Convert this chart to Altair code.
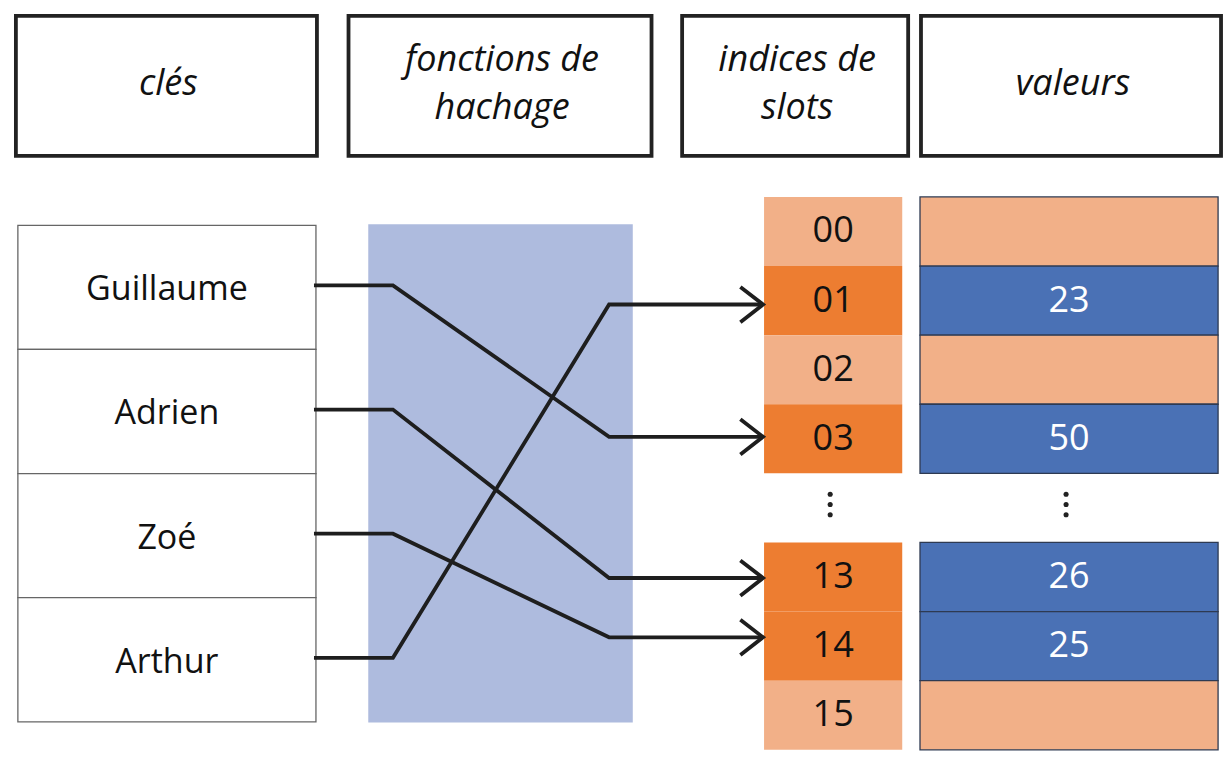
import altair as alt
import pandas as pd

# ---------------- data ----------------
header_labels = ["clés", "fonctions de\nhachage", "indices de\nslots", "valeurs"]
keys = ["Guillaume", "Adrien", "Zoé", "Arthur"]
key_slots = ["03", "13", "14", "01"]
slot_labels = ["00", "01", "02", "03", "⋮", "13", "14", "15"]
slot_values = ["", "23", "", "50", "⋮", "26", "25", ""]

# ---------------- layout (reference pixel space) ----------------
W, H = 1232, 758
header_edges = [(8, 313), (345, 652), (683, 912), (925, 1229)]
header_top, header_bottom = 8, 151
header_line_h = 48
key_left, key_right, key_top, key_row_h = 10, 312, 222, 126.8
hash_box = (365, 633, 221, 730)
slot_left, slot_right = 766, 906
val_left, val_right = 924, 1226
slot_top, slot_row_h = 193, 70.6
line_x = [310, 390, 609, 765]
arrow_dx, arrow_dy = 23, 18
arrow_shift = {"01": 4, "03": -2, "13": 1, "14": -9}
FONT = "Open Sans"

# ---------------- tables ----------------
headers = pd.DataFrame({
    "label": header_labels,
    "x": [a for a, b in header_edges],
    "x2": [b for a, b in header_edges],
    "y": [header_top] * 4,
    "y2": [header_bottom] * 4,
})
headers["xc"] = (headers["x"] + headers["x2"]) / 2 + 2
headers["yc"] = [
    (header_top + header_bottom) / 2 - 2 - (lbl.count("\n")) * header_line_h / 2
    for lbl in header_labels
]

key_df = pd.DataFrame({"label": keys})
key_df["x"] = key_left
key_df["x2"] = key_right
key_df["y"] = [key_top + i * key_row_h for i in range(len(keys))]
key_df["y2"] = key_df["y"] + key_row_h
key_df["xc"] = (key_left + key_right) / 2
key_df["yc"] = key_df["y"] + key_row_h / 2 + 3

hash_df = pd.DataFrame({"x": [hash_box[0]], "x2": [hash_box[1]],
                        "y": [hash_box[2]], "y2": [hash_box[3]]})

slot_rows = []
dot_rows = []
for j, (s, v) in enumerate(zip(slot_labels, slot_values)):
    top = slot_top + j * slot_row_h
    if s == "⋮":
        for dy in (-14, -3.5, 7):
            dot_rows.append({"x": (slot_left + slot_right) / 2 - 3, "y": top + slot_row_h / 2 + dy})
            dot_rows.append({"x": (val_left + val_right) / 2 - 3, "y": top + slot_row_h / 2 + dy})
        continue
    used = bool(v)
    slot_rows.append({
        "slot": s, "value": v,
        "slot_state": "slot used" if used else "slot empty",
        "val_state": "value used" if used else "value empty",
        "y": top, "y2": top + slot_row_h,
        "yc": top + slot_row_h / 2,
    })
slots_df = pd.DataFrame(slot_rows)
slots_df["x"] = slot_left
slots_df["x2"] = slot_right
slots_df["xc"] = (slot_left + slot_right) / 2
slots_df["vx"] = val_left
slots_df["vx2"] = val_right
slots_df["vxc"] = (val_left + val_right) / 2
dots_df = pd.DataFrame(dot_rows)

line_rows = []
arrow_rows = []
for i, (k, s) in enumerate(zip(keys, key_slots)):
    yk = key_top + (i + 0.5) * key_row_h - 2
    j = slot_labels.index(s)
    ys = slot_top + (j + 0.5) * slot_row_h + arrow_shift.get(s, 0)
    for o, (px, py) in enumerate(zip(line_x, [yk, yk, ys, ys])):
        line_rows.append({"id": k, "o": o, "x": px, "y": py})
    tip = line_x[-1]
    for o, (px, py) in enumerate([(tip - arrow_dx, ys - arrow_dy), (tip, ys), (tip - arrow_dx, ys + arrow_dy)]):
        arrow_rows.append({"id": k, "o": o, "x": px, "y": py})
lines_df = pd.DataFrame(line_rows)
arrows_df = pd.DataFrame(arrow_rows)

# ---------------- scales ----------------
xs = alt.Scale(domain=[0, W], nice=False, zero=False)
ys_ = alt.Scale(domain=[0, H], nice=False, zero=False, reverse=True)
fill_scale = alt.Scale(
    domain=["slot used", "slot empty", "value used", "value empty"],
    range=["#ED7D31", "#F2B088", "#4A71B5", "#F2B088"],
)


def X(f):
    return alt.X(f"{f}:Q", scale=xs, axis=None)


def Y(f):
    return alt.Y(f"{f}:Q", scale=ys_, axis=None)


header_boxes = alt.Chart(headers).mark_rect(fill="white", stroke="#222222", strokeWidth=3.8).encode(
    x=X("x"), x2="x2", y=Y("y"), y2="y2")
header_text = alt.Chart(headers).mark_text(
    font=FONT, fontStyle="italic", fontSize=36, lineBreak="\n", lineHeight=header_line_h,
    color="#111111", baseline="middle", align="center").encode(
    x=X("xc"), y=Y("yc"), text="label:N")

key_boxes = alt.Chart(key_df).mark_rect(fill="white", stroke="#666666", strokeWidth=1.3).encode(
    x=X("x"), x2="x2", y=Y("y"), y2="y2")
key_text = alt.Chart(key_df).mark_text(
    font=FONT, fontSize=34, color="#111111", baseline="middle", align="center").encode(
    x=X("xc"), y=Y("yc"), text="label:N")

hash_rect = alt.Chart(hash_df).mark_rect(fill="#AEBBDE").encode(
    x=X("x"), x2="x2", y=Y("y"), y2="y2")

slot_rect = alt.Chart(slots_df).mark_rect().encode(
    x=X("x"), x2="x2", y=Y("y"), y2="y2",
    fill=alt.Fill("slot_state:N", scale=fill_scale, legend=None))
slot_text = alt.Chart(slots_df).mark_text(
    font=FONT, fontSize=36, color="#111111", baseline="middle", align="center").encode(
    x=X("xc"), y=Y("yc"), text="slot:N")

val_rect = alt.Chart(slots_df).mark_rect(stroke="#2E3A52", strokeWidth=1.3).encode(
    x=X("vx"), x2="vx2", y=Y("y"), y2="y2",
    fill=alt.Fill("val_state:N", scale=fill_scale, legend=None))
val_text = alt.Chart(slots_df).mark_text(
    font=FONT, fontSize=36, color="white", baseline="middle", align="center").encode(
    x=X("vxc"), y=Y("yc"), text="value:N")

dots = alt.Chart(dots_df).mark_circle(size=26, color="#222222", opacity=1).encode(
    x=X("x"), y=Y("y"))

lines = alt.Chart(lines_df).mark_line(color="#1E1E1E", strokeWidth=3.8, strokeJoin="miter").encode(
    x=X("x"), y=Y("y"), detail="id:N", order="o:Q")
arrows = alt.Chart(arrows_df).mark_line(color="#1E1E1E", strokeWidth=3.8, strokeJoin="miter").encode(
    x=X("x"), y=Y("y"), detail="id:N", order="o:Q")

chart = alt.layer(
    header_boxes, header_text, key_boxes, key_text, hash_rect,
    slot_rect, val_rect, slot_text, val_text, dots, lines, arrows,
).properties(width=1216, height=742, padding=0, background="white").configure_view(stroke=None)

chart.save("out.html", embed_options={"renderer": "svg", "actions": False})
